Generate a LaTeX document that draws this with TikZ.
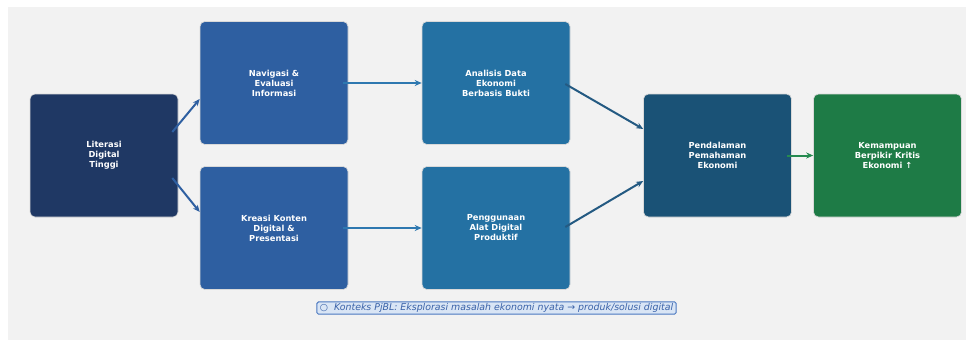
\documentclass[tikz,border=0pt]{standalone}
\usepackage{fontspec}
\setmainfont{DejaVu Sans}
\usetikzlibrary{calc,arrows.meta}
\definecolor{bgc}{HTML}{F2F2F2}
\definecolor{clit}{HTML}{1F3864}
\definecolor{cnav}{HTML}{2E5FA1}
\definecolor{cana}{HTML}{2471A3}
\definecolor{cpend}{HTML}{1A5276}
\definecolor{ckem}{HTML}{1E7B46}
\definecolor{acmid}{HTML}{2E78B0}
\definecolor{acdark}{HTML}{245A82}
\definecolor{acgreen}{HTML}{268A50}
\definecolor{capfill}{HTML}{D9E5F5}
\definecolor{capdraw}{HTML}{4A78C0}
\definecolor{captext}{HTML}{3A62A8}
\tikzset{
  box/.style={draw=white!85!black, line width=0.6pt, rounded corners=5pt, minimum width=148pt, minimum height=123pt,
    text=white, align=center, inner sep=0pt, font=\fontsize{8.3}{10}\selectfont\bfseries},
  conn/.style={line width=2pt, -{Stealth[length=7pt,width=6pt]}},
}
\begin{document}
\begin{tikzpicture}[x=1pt,y=1pt]
\useasboundingbox (0,0) rectangle (972,341);
\fill[bgc] (8,1) rectangle (966,334);
\node[box, fill=clit] (lit) at (104,185.5) {Literasi\\Digital\\Tinggi};
\node[box, fill=cnav] (nav) at (274,258) {Navigasi \&\\Evaluasi\\Informasi};
\node[box, fill=cnav] (kre) at (274,113) {Kreasi Konten\\Digital \&\\Presentasi};
\node[box, fill=cana] (ana) at (496,258) {Analisis Data\\Ekonomi\\Berbasis Bukti};
\node[box, fill=cana] (peng) at (496,113) {Penggunaan\\Alat Digital\\Produktif};
\node[box, fill=cpend] (pend) at (717.5,185.5) {Pendalaman\\Pemahaman\\Ekonomi};
\node[box, fill=ckem] (kem) at (887.5,185.5) {Kemampuan\\Berpikir Kritis\\Ekonomi ↑};
\node[draw=capdraw, fill=capfill, line width=1pt, rounded corners=1.5pt, inner xsep=3pt, inner ysep=1.5pt,
  text=captext, font=\fontsize{9.4}{11}\selectfont\itshape] (cap) at (496.5,33)
  {○\ \ Konteks PjBL: Eksplorasi masalah ekonomi nyata → produk/solusi digital};
\draw[conn, cnav] ($(lit.east)+(-6,23.5)$) -- ($(nav.west)+(0,-16)$);
\draw[conn, cnav] ($(lit.east)+(-6,-22.5)$) -- ($(kre.west)+(0,16)$);
\draw[conn, acmid] ($(nav.east)+(-5,0)$) -- (ana.west);
\draw[conn, acmid] ($(kre.east)+(-5,0)$) -- (peng.west);
\draw[conn, acdark] ($(ana.east)+(-5,-1)$) -- ($(pend.west)+(0,26.5)$);
\draw[conn, acdark] ($(peng.east)+(-5,1)$) -- ($(pend.west)+(0,-25.5)$);
\draw[conn, acgreen] ($(pend.east)+(-5,0)$) -- (kem.west);
\end{tikzpicture}
\end{document}
